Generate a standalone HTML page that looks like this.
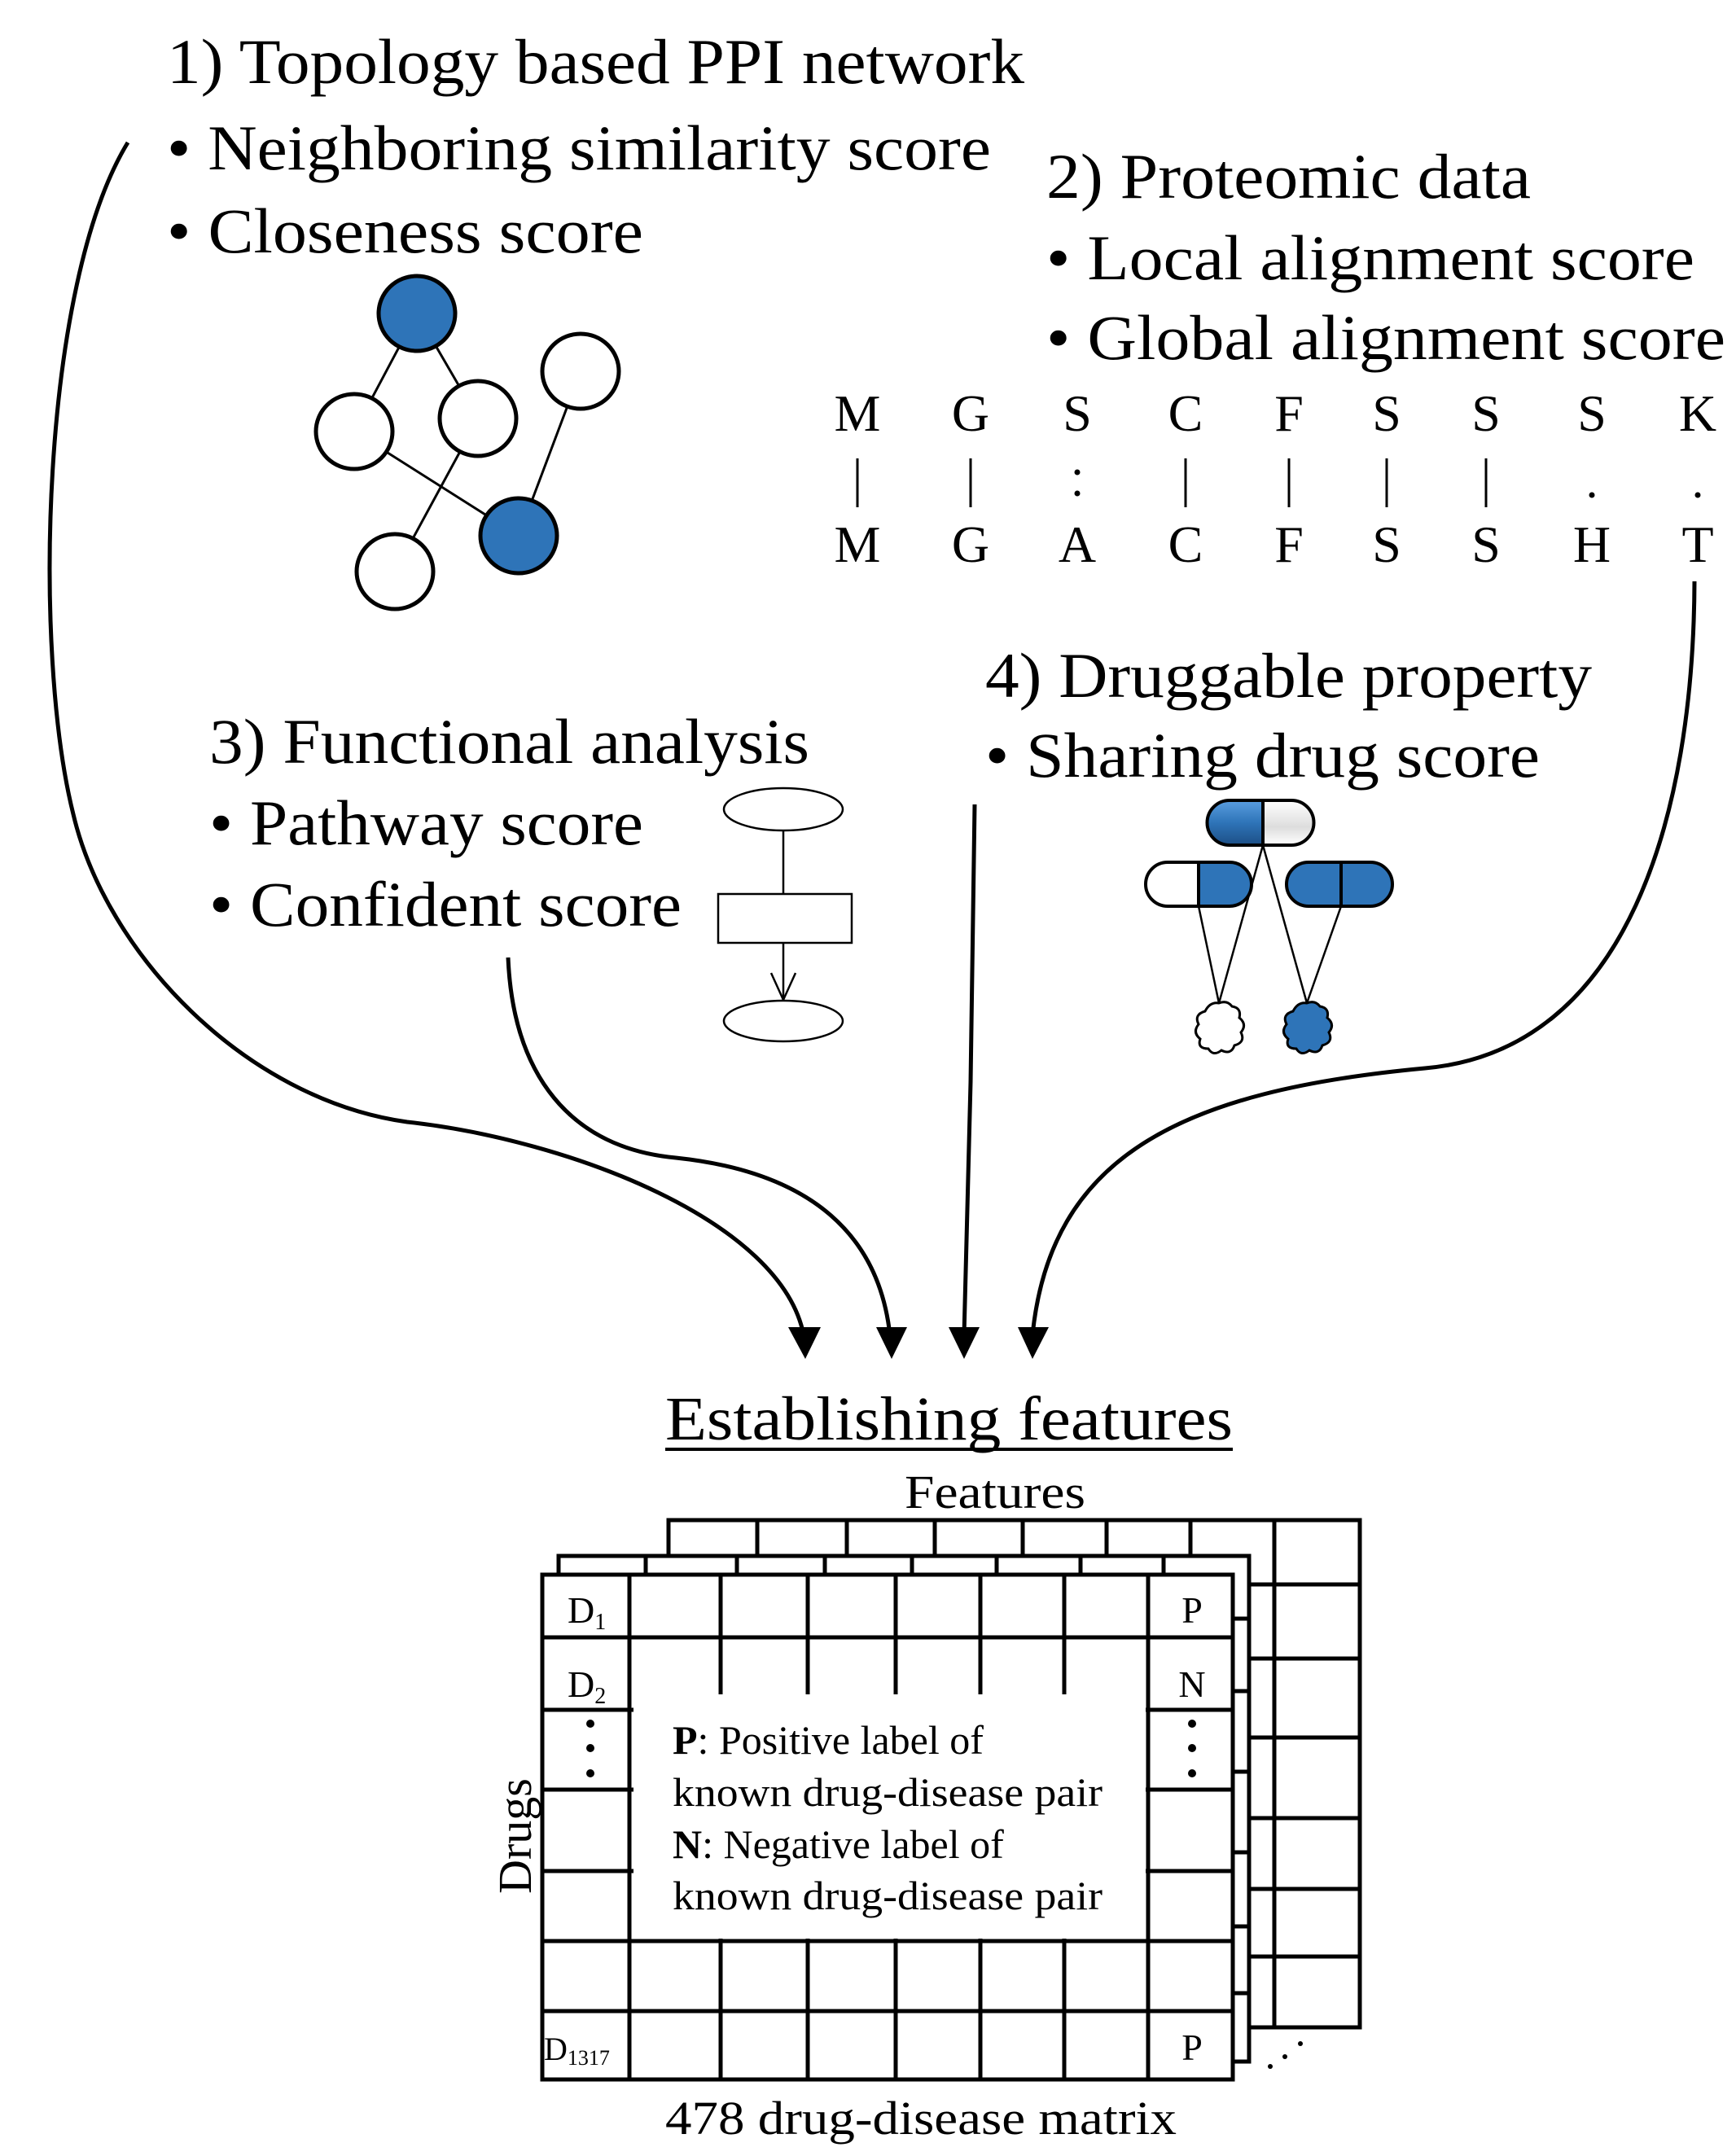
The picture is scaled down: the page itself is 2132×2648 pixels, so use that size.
<!DOCTYPE html>
<html><head><meta charset="utf-8"><style>
html,body{margin:0;padding:0;background:#fff;}
svg{display:block;}
text{font-family:"Liberation Serif",serif;fill:#000;}
</style></head><body>
<svg width="2132" height="2648" viewBox="0 0 2132 2648" xmlns="http://www.w3.org/2000/svg">
<defs>
<linearGradient id="gb" x1="0" y1="0" x2="0" y2="1"><stop offset="0" stop-color="#5a9ee0"/><stop offset="0.5" stop-color="#2e74b8"/><stop offset="1" stop-color="#1d4f86"/></linearGradient>
<linearGradient id="gw" x1="0" y1="0" x2="0" y2="1"><stop offset="0" stop-color="#fff"/><stop offset="0.6" stop-color="#ddd"/><stop offset="1" stop-color="#fff"/></linearGradient>
</defs>
<!-- headings -->
<text x="205" y="102" font-size="78" textLength="1053" lengthAdjust="spacingAndGlyphs">1) Topology based PPI network</text>
<text x="205" y="208" font-size="78" textLength="1012" lengthAdjust="spacingAndGlyphs">• Neighboring similarity score</text>
<text x="205" y="310" font-size="78" textLength="585" lengthAdjust="spacingAndGlyphs">• Closeness score</text>
<text x="1285" y="243" font-size="78" textLength="595" lengthAdjust="spacingAndGlyphs">2) Proteomic data</text>
<text x="1285" y="343" font-size="78" textLength="796" lengthAdjust="spacingAndGlyphs">• Local alignment score</text>
<text x="1285" y="441" font-size="78" textLength="834" lengthAdjust="spacingAndGlyphs">• Global alignment score</text>
<!-- alignment -->
<g font-size="64" text-anchor="middle">
<text x="1053" y="529">M</text><text x="1192" y="529">G</text><text x="1323" y="529">S</text><text x="1456" y="529">C</text><text x="1583" y="529">F</text><text x="1703" y="529">S</text><text x="1825" y="529">S</text><text x="1955" y="529">S</text><text x="2085" y="529">K</text>
<text x="1053" y="690">M</text><text x="1192" y="690">G</text><text x="1323" y="690">A</text><text x="1456" y="690">C</text><text x="1583" y="690">F</text><text x="1703" y="690">S</text><text x="1825" y="690">S</text><text x="1955" y="690">H</text><text x="2085" y="690">T</text>
</g>
<g stroke="#000" stroke-width="3">
<line x1="1053" y1="563" x2="1053" y2="623"/><line x1="1192" y1="563" x2="1192" y2="623"/><line x1="1456" y1="563" x2="1456" y2="623"/><line x1="1583" y1="563" x2="1583" y2="623"/><line x1="1703" y1="563" x2="1703" y2="623"/><line x1="1825" y1="563" x2="1825" y2="623"/>
</g>
<g fill="#000"><circle cx="1323" cy="580" r="3.5"/><circle cx="1323" cy="606" r="3.5"/><circle cx="1955" cy="608" r="3.5"/><circle cx="2085" cy="608" r="3.5"/></g>
<!-- network -->
<g stroke="#000" stroke-width="3">
<line x1="512" y1="385" x2="435" y2="530"/><line x1="512" y1="385" x2="587" y2="514"/><line x1="713" y1="456" x2="637" y2="658"/><line x1="435" y1="530" x2="637" y2="658"/><line x1="587" y1="514" x2="485" y2="702"/>
</g>
<g stroke="#000" stroke-width="5">
<ellipse cx="512" cy="385" rx="47" ry="46" fill="#2e74b8"/>
<ellipse cx="435" cy="530" rx="47" ry="46" fill="#fff"/>
<ellipse cx="587" cy="514" rx="47" ry="46" fill="#fff"/>
<ellipse cx="713" cy="456" rx="47" ry="46" fill="#fff"/>
<ellipse cx="485" cy="702" rx="47" ry="46" fill="#fff"/>
<ellipse cx="637" cy="658" rx="47" ry="46" fill="#2e74b8"/>
</g>
<!-- section 3 -->
<text x="257" y="937" font-size="78" textLength="737" lengthAdjust="spacingAndGlyphs">3) Functional analysis</text>
<text x="257" y="1037" font-size="78" textLength="533" lengthAdjust="spacingAndGlyphs">• Pathway score</text>
<text x="257" y="1137" font-size="78" textLength="580" lengthAdjust="spacingAndGlyphs">• Confident score</text>
<g stroke="#000" stroke-width="2.5" fill="none">
<ellipse cx="962" cy="994" rx="73" ry="26" fill="#fff"/>
<line x1="962" y1="1020" x2="962" y2="1098"/>
<rect x="882" y="1098" width="164" height="60" fill="#fff"/>
<line x1="962" y1="1158" x2="962" y2="1228"/>
<polyline points="947,1195 962,1228 977,1195"/>
<ellipse cx="962" cy="1254" rx="73" ry="25" fill="#fff"/>
</g>
<!-- section 4 -->
<text x="1210" y="856" font-size="78" textLength="745" lengthAdjust="spacingAndGlyphs">4) Druggable property</text>
<text x="1210" y="954" font-size="78" textLength="681" lengthAdjust="spacingAndGlyphs">• Sharing drug score</text>
<g stroke="#000" stroke-width="2.5">
<line x1="1472" y1="1113" x2="1497" y2="1232"/><line x1="1551" y1="1038" x2="1497" y2="1232"/><line x1="1551" y1="1038" x2="1605" y2="1232"/><line x1="1647" y1="1113" x2="1605" y2="1232"/>
</g>
<g stroke="#000" stroke-width="4">
<path d="M1551,983 L1510,983 A27,27 0 0 0 1510,1038 L1551,1038 Z" fill="url(#gb)"/>
<path d="M1551,983 L1586,983 A27,27 0 0 1 1586,1038 L1551,1038 Z" fill="url(#gw)"/>
<path d="M1472,1059 L1434,1059 A27,27 0 0 0 1434,1113 L1472,1113 Z" fill="#fff"/>
<path d="M1472,1059 L1510,1059 A27,27 0 0 1 1510,1113 L1472,1113 Z" fill="#2e74b8"/>
<path d="M1647,1059 L1607,1059 A27,27 0 0 0 1607,1113 L1647,1113 Z" fill="#2e74b8"/>
<path d="M1647,1059 L1683,1059 A27,27 0 0 1 1683,1113 L1647,1113 Z" fill="#2e74b8"/>
</g>
<g stroke="#000" stroke-width="3">
<path d="M1497,1232 q10,-4 16,4 q12,2 9,14 q10,8 2,18 q6,12 -8,16 q-4,12 -16,6 q-10,8 -16,-2 q-14,0 -10,-12 q-10,-8 -2,-18 q-6,-12 8,-16 q6,-12 17,-10 Z" fill="#fff"/>
<path d="M1605,1232 q10,-4 16,4 q12,2 9,14 q10,8 2,18 q6,12 -8,16 q-4,12 -16,6 q-10,8 -16,-2 q-14,0 -10,-12 q-10,-8 -2,-18 q-6,-12 8,-16 q6,-12 17,-10 Z" fill="#2e74b8"/>
</g>
<!-- connectors -->
<g stroke="#000" stroke-width="5" fill="none">
<path d="M157,175 C50,350 40,800 90,1000 C130,1170 300,1350 500,1378 C700,1400 960,1500 987,1640"/>
<path d="M624,1176 C630,1320 700,1410 830,1422 C1000,1440 1080,1520 1093,1640"/>
<path d="M1197,988 L1192,1329 L1184,1640"/>
<path d="M2081,714 C2080,1000 2000,1290 1750,1312 C1450,1340 1290,1420 1268,1640"/>
</g>
<g fill="#000">
<polygon points="968,1630 1008,1630 989,1669"/>
<polygon points="1076,1630 1114,1630 1095,1669"/>
<polygon points="1165,1630 1203,1630 1184,1669"/>
<polygon points="1250,1630 1288,1630 1268,1669"/>
</g>
<!-- Establishing features -->
<text x="817" y="1768" font-size="76" textLength="697" lengthAdjust="spacingAndGlyphs">Establishing features</text>
<line x1="817" y1="1780" x2="1514" y2="1780" stroke="#000" stroke-width="4"/>
<text x="1111" y="1852" font-size="58" textLength="222" lengthAdjust="spacingAndGlyphs">Features</text>
<!-- back matrix -->
<g stroke="#000" stroke-width="5" fill="#fff">
<rect x="821" y="1867" width="849" height="623"/>
<path d="M930,1867V1911M1040,1867V1911M1148,1867V1911M1256,1867V1911M1359,1867V1911M1462,1867V1911M1565,1867V2490" fill="none"/>
<path d="M1534,1946H1670M1534,2037H1670M1534,2134H1670M1534,2233H1670M1534,2320H1670M1534,2403H1670" fill="none"/>
</g>
<!-- middle matrix -->
<g stroke="#000" stroke-width="5" fill="#fff">
<rect x="686" y="1911" width="848" height="621"/>
<path d="M793,1911V1934M905,1911V1934M1013,1911V1934M1120,1911V1934M1224,1911V1934M1327,1911V1934M1429,1911V1934" fill="none"/>
<path d="M1514,1988H1534M1514,2077H1534M1514,2176H1534M1514,2275H1534M1514,2366H1534M1514,2448H1534" fill="none"/>
</g>
<!-- front matrix -->
<g stroke="#000" stroke-width="5" fill="#fff">
<rect x="666" y="1934" width="848" height="620"/>
<path d="M773,1934V2554M885,1934V2554M992,1934V2554M1100,1934V2554M1204,1934V2554M1307,1934V2554M1410,1934V2554" fill="none"/>
<path d="M666,2011H1514M666,2100H1514M666,2198H1514M666,2298H1514M666,2384H1514M666,2470H1514" fill="none"/>
</g>
<rect x="777" y="2081" width="630" height="300" fill="#fff"/>
<g stroke="#000" stroke-width="5">
<path d="M666,2100H778M1407,2100H1514M666,2198H778M1407,2198H1514M666,2298H778M1407,2298H1514M666,2384H1514"/>
<path d="M773,2081V2384M1410,2081V2384"/>
</g>
<g font-size="50">
<text x="826" y="2154"><tspan font-weight="bold">P</tspan>: Positive label of</text>
<text x="826" y="2218" textLength="528" lengthAdjust="spacingAndGlyphs">known drug-disease pair</text>
<text x="826" y="2282"><tspan font-weight="bold">N</tspan>: Negative label of</text>
<text x="826" y="2345" textLength="528" lengthAdjust="spacingAndGlyphs">known drug-disease pair</text>
</g>
<g font-size="46">
<text x="697" y="1993">D<tspan font-size="28" dy="8">1</tspan></text>
<text x="697" y="2084">D<tspan font-size="28" dy="8">2</tspan></text>
<text x="668" y="2530" font-size="40">D<tspan font-size="26" dy="6">1317</tspan></text>
<text x="1464" y="1993" text-anchor="middle">P</text>
<text x="1464" y="2084" text-anchor="middle">N</text>
<text x="1464" y="2530" text-anchor="middle">P</text>
</g>
<g fill="#000">
<circle cx="725" cy="2117" r="5"/><circle cx="725" cy="2147" r="5"/><circle cx="725" cy="2178" r="5"/>
<circle cx="1464" cy="2117" r="5"/><circle cx="1464" cy="2147" r="5"/><circle cx="1464" cy="2178" r="5"/>
<circle cx="1560" cy="2538" r="3"/><circle cx="1578" cy="2526" r="3"/><circle cx="1597" cy="2510" r="3"/>
</g>
<text transform="translate(652,2255) rotate(-90)" font-size="58" text-anchor="middle">Drugs</text>
<text x="817" y="2621" font-size="58" textLength="628" lengthAdjust="spacingAndGlyphs">478 drug-disease matrix</text>
</svg>
</body></html>
